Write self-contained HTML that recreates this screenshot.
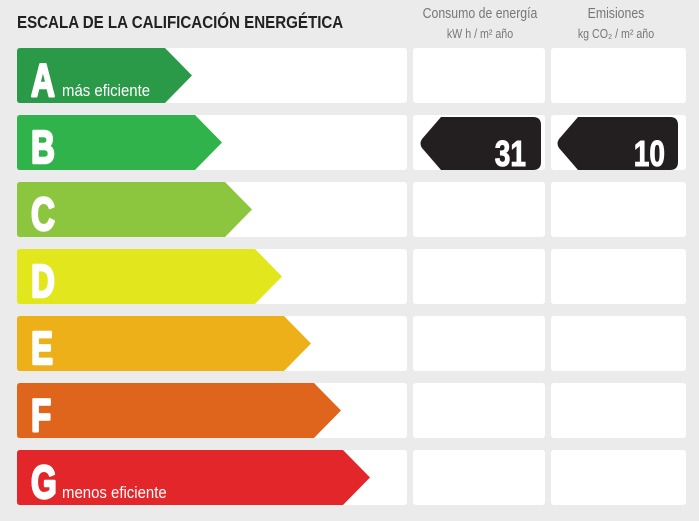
<!DOCTYPE html>
<html><head><meta charset="utf-8"><style>
html,body{margin:0;padding:0;background:#ebebeb;}
svg{display:block;}
</style></head><body>
<svg width="699" height="521" viewBox="0 0 699 521" xmlns="http://www.w3.org/2000/svg">
<rect width="699" height="521" fill="#ebebeb"/>
<text x="17" y="28" font-family="Liberation Sans, sans-serif" font-weight="bold" font-size="18" fill="#222" transform="translate(17 0) scale(0.84 1) translate(-17 0)">ESCALA DE LA CALIFICACIÓN ENERGÉTICA</text>
<g font-family="Liberation Sans, sans-serif" fill="#777" text-anchor="middle">
<text x="480" y="18" font-size="15" transform="translate(480 0) scale(0.82 1) translate(-480 0)">Consumo de energía</text>
<text x="480" y="38" font-size="13" transform="translate(480 0) scale(0.82 1) translate(-480 0)">kW h / m² año</text>
<text x="616" y="18" font-size="15" transform="translate(616 0) scale(0.82 1) translate(-616 0)">Emisiones</text>
<text x="616" y="38" font-size="13" transform="translate(616 0) scale(0.82 1) translate(-616 0)">kg CO₂ / m² año</text>
</g>
<g fill="#fff">
<rect x="17" y="48" width="390" height="55" rx="3"/><rect x="413" y="48" width="132" height="55" rx="3"/><rect x="551" y="48" width="135" height="55" rx="3"/>
<rect x="17" y="115" width="390" height="55" rx="3"/><rect x="413" y="115" width="132" height="55" rx="3"/><rect x="551" y="115" width="135" height="55" rx="3"/>
<rect x="17" y="182" width="390" height="55" rx="3"/><rect x="413" y="182" width="132" height="55" rx="3"/><rect x="551" y="182" width="135" height="55" rx="3"/>
<rect x="17" y="249" width="390" height="55" rx="3"/><rect x="413" y="249" width="132" height="55" rx="3"/><rect x="551" y="249" width="135" height="55" rx="3"/>
<rect x="17" y="316" width="390" height="55" rx="3"/><rect x="413" y="316" width="132" height="55" rx="3"/><rect x="551" y="316" width="135" height="55" rx="3"/>
<rect x="17" y="383" width="390" height="55" rx="3"/><rect x="413" y="383" width="132" height="55" rx="3"/><rect x="551" y="383" width="135" height="55" rx="3"/>
<rect x="17" y="450" width="390" height="55" rx="3"/><rect x="413" y="450" width="132" height="55" rx="3"/><rect x="551" y="450" width="135" height="55" rx="3"/>
</g>
<g>
<path d="M20 48 H165 L192 75.5 L165 103 H20 Q17 103 17 100 V51 Q17 48 20 48Z" fill="#2a9a48"/>
<path d="M20 115 H195 L222 142.5 L195 170 H20 Q17 170 17 167 V118 Q17 115 20 115Z" fill="#2fb34a"/>
<path d="M20 182 H225 L252 209.5 L225 237 H20 Q17 237 17 234 V185 Q17 182 20 182Z" fill="#8cc63f"/>
<path d="M20 249 H255 L282 276.5 L255 304 H20 Q17 304 17 301 V252 Q17 249 20 249Z" fill="#e2e61d"/>
<path d="M20 316 H284 L311 343.5 L284 371 H20 Q17 371 17 368 V319 Q17 316 20 316Z" fill="#eeb019"/>
<path d="M20 383 H314 L341 410.5 L314 438 H20 Q17 438 17 435 V386 Q17 383 20 383Z" fill="#e0651c"/>
<path d="M20 450 H343 L370 477.5 L343 505 H20 Q17 505 17 502 V453 Q17 450 20 450Z" fill="#e3262a"/>
</g>
<g font-family="Liberation Sans, sans-serif" font-weight="bold" fill="#fff" stroke="#fff" stroke-width="2.5" stroke-linejoin="round" font-size="46">
<text transform="translate(31 96) scale(0.72 1)">A</text>
<text transform="translate(31 163) scale(0.72 1)">B</text>
<text transform="translate(31 230) scale(0.72 1)">C</text>
<text transform="translate(31 297) scale(0.72 1)">D</text>
<text transform="translate(31 364) scale(0.72 1)">E</text>
<text transform="translate(31 431) scale(0.72 1)">F</text>
<text transform="translate(31 498) scale(0.72 1)">G</text>
</g>
<g font-family="Liberation Sans, sans-serif" fill="#fff" font-size="17">
<text transform="translate(62 96) scale(0.88 1)">más eficiente</text>
<text transform="translate(62 498) scale(0.88 1)">menos eficiente</text>
</g>
<path d="M441 117 H533 Q541 117 541 125 V162 Q541 170 533 170 H441 L422 148 Q419 143.5 422 139 Z" fill="#231f20"/>
<path d="M578 117 H670 Q678 117 678 125 V162 Q678 170 670 170 H578 L559 148 Q556 143.5 559 139 Z" fill="#231f20"/>
<g font-family="Liberation Sans, sans-serif" font-weight="bold" fill="#fff" stroke="#fff" stroke-width="1" font-size="36" text-anchor="end">
<text transform="translate(526 166) scale(0.78 1)">31</text>
<text transform="translate(665 166) scale(0.78 1)">10</text>
</g>
</svg>
</body></html>
